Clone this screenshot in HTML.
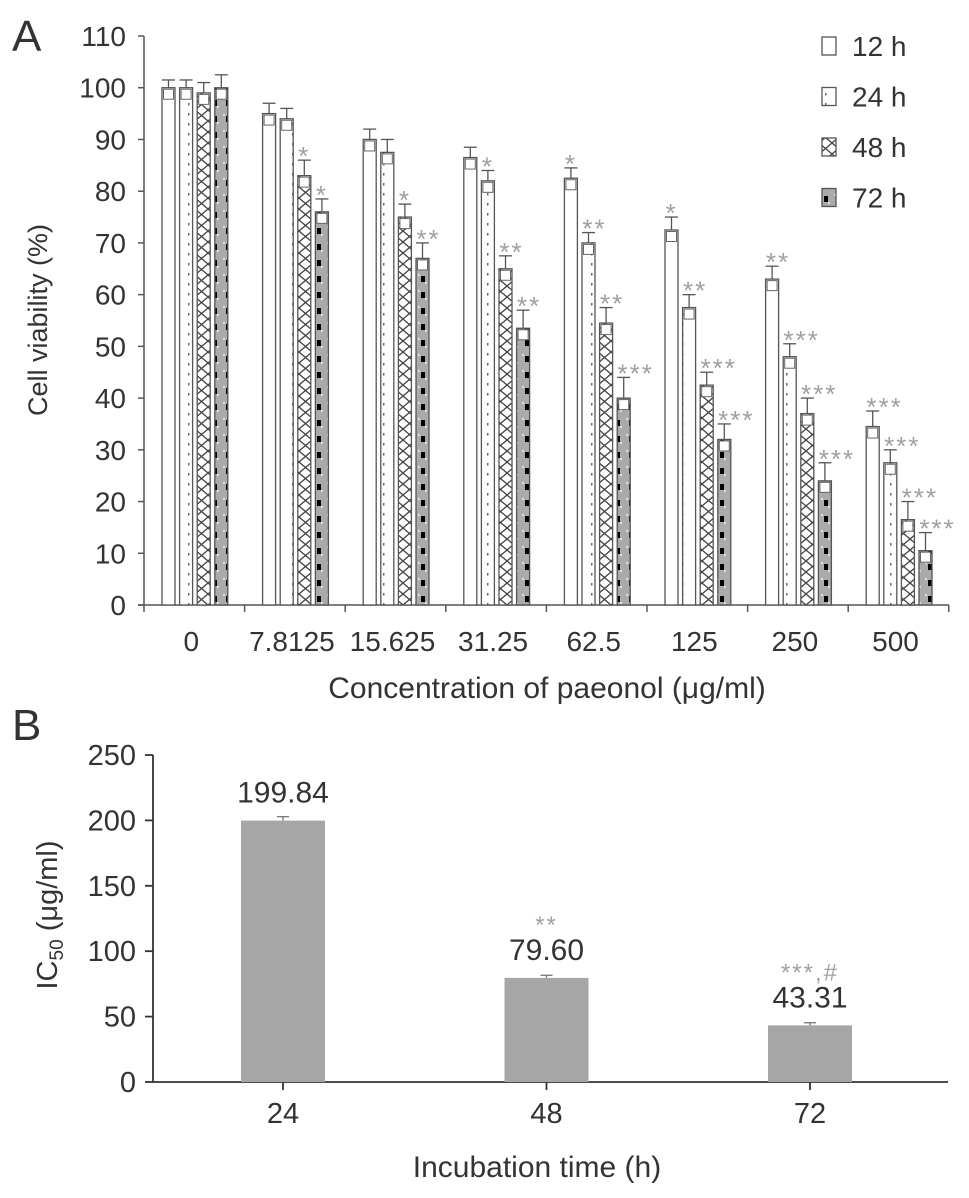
<!DOCTYPE html>
<html><head><meta charset="utf-8"><style>
html,body{margin:0;padding:0;background:#fff}
svg{display:block;font-family:"Liberation Sans",sans-serif}
</style></head><body>
<svg id="fig" width="969" height="1198" viewBox="0 0 969 1198" xmlns="http://www.w3.org/2000/svg">
<defs>
<pattern id="p24" width="13" height="10" patternUnits="userSpaceOnUse"><rect width="13" height="10" fill="#fff"/><rect x="6" y="3" width="1.5" height="2.5" fill="#666"/></pattern>
<pattern id="p48" width="13" height="22" patternUnits="userSpaceOnUse"><rect width="13" height="22" fill="#fff"/><path d="M0 0 L13 11 L0 22 M13 0 L0 11 L13 22" stroke="#444" stroke-width="1.3" fill="none"/></pattern>
<pattern id="p72" width="13" height="16" patternUnits="userSpaceOnUse"><rect width="13" height="16" fill="#aaa"/><circle cx="3" cy="3" r="1" fill="#eee"/><circle cx="10" cy="11" r="1" fill="#eee"/><rect x="5" y="4" width="4" height="6" fill="#000"/></pattern>
</defs>
<g id="A"></g>
<g id="B"></g>
</svg>
<script>
const categories=["0","7.8125","15.625","31.25","62.5","125","250","500"];
const seriesNames=["12 h","24 h","48 h","72 h"];
const v12=[100,95,90,86.5,82.5,72.5,63,34.5];
const v24=[100,94,87.5,82,70,57.5,48,27.5];
const v48=[99,83,75,65,54.5,42.5,37,16.5];
const v72=[100,76,67,53.5,40,32,24,10.5];
const e12=[1.5,2,2,2,2,2.5,2.5,3];
const e24=[1.5,2,2.5,2,2,2.5,2.5,2.5];
const e48=[2,3,2.5,2.5,3,2.5,3,3.5];
const e72=[2.5,2.5,3,3.5,4,3,3.5,3.5];
const s12=["","","","","*","*","**","***"];
const s24=["","","","*","**","**","***","***"];
const s48=["","*","*","**","**","***","***","***"];
const s72=["","*","**","**","***","***","***","***"];
const yTicksA=[0,10,20,30,40,50,60,70,80,90,100,110];
const bCats=["24","48","72"];
const bVals=[199.84,79.60,43.31];
const bErr=[3,2,2];
const bLabels=["199.84","79.60","43.31"];
const bStars=["","**","***,#"];
const yTicksB=[0,50,100,150,200,250];

const NS="http://www.w3.org/2000/svg";
function mk(p,tag,at,txt){const e=document.createElementNS(NS,tag);for(const k in at)e.setAttribute(k,at[k]);if(txt!==undefined)e.textContent=txt;p.appendChild(e);return e;}
const TXT="#333";
// Panel A
const A=document.getElementById('A');
const yA=v=>605-v*(569/110);
const x0=144,gw=100.6;
const xg=i=>x0+i*gw;
let t=mk(A,'text',{x:12,y:51,'font-size':44,fill:TXT},'A');


let ax=mk(A,'line',{x1:x0,y1:yA(110),x2:x0,y2:yA(0),stroke:'#555','stroke-width':1.5});


let axx=mk(A,'line',{x1:x0-6,y1:yA(0),x2:949,y2:yA(0),stroke:'#555','stroke-width':1.5});


yTicksA.forEach(v=>{
 mk(A,'line',{x1:x0-6,y1:yA(v),x2:x0,y2:yA(v),stroke:'#555','stroke-width':1.5});
 const l=mk(A,'text',{x:126,y:yA(v)+10,'font-size':28,'text-anchor':'end',fill:TXT},String(v));
 
 
});
for(let i=0;i<=categories.length;i++)mk(A,'line',{x1:xg(i),y1:yA(0),x2:xg(i),y2:yA(0)+7,stroke:'#555','stroke-width':1.5});
categories.forEach((c,i)=>{
 const l=mk(A,'text',{x:xg(i)+gw/2-3,y:651,'font-size':28,'text-anchor':'middle',fill:TXT},c);
 
 
});
const series=[v12,v24,v48,v72],errs=[e12,e24,e48,e72],stars=[s12,s24,s48,s72];
const fills=['#fff','url(#p24)','url(#p48)','url(#p72)'];
series.forEach((vals,s)=>{
 vals.forEach((v,i)=>{
  const bx=xg(i)+18+s*17.6,bw=13;
  const top=yA(v),et=yA(v+errs[s][i]);
  mk(A,'line',{x1:bx+bw/2,y1:et,x2:bx+bw/2,y2:top,stroke:'#555','stroke-width':1.3});
  mk(A,'line',{x1:bx,y1:et,x2:bx+bw,y2:et,stroke:'#555','stroke-width':1.3});
  const r=mk(A,'rect',{x:bx,y:top,width:bw,height:yA(0)-top,fill:fills[s],stroke:'#555','stroke-width':1.3});
  
  
  mk(A,'rect',{x:bx+1.5,y:top+1.5,width:bw-3,height:10,fill:'#fff',stroke:'#666','stroke-width':1});
  if(stars[s][i]){
   const n=stars[s][i].length;
   const st=mk(A,'text',{x:bx+bw/2+(n-1)*6,y:et+5,'font-size':26,'text-anchor':'middle',fill:'#a0a0a0','letter-spacing':2},stars[s][i]);
   
   
  }
 });
});
seriesNames.forEach((n,s)=>{
 const y=46+s*50.5;
 const g=mk(A,'g',{});
 
 
 mk(g,'rect',{x:822,y:y-9,width:14,height:18,fill:fills[s],stroke:'#555','stroke-width':1.3});
 mk(g,'text',{x:852,y:y+10,'font-size':28,fill:TXT},n);
});
t=mk(A,'text',{x:0,y:0,'font-size':27,'text-anchor':'middle',fill:TXT,transform:'translate(47,320) rotate(-90)'},'Cell viability (%)');


t=mk(A,'text',{x:547,y:698,'font-size':30,'text-anchor':'middle',fill:TXT},'Concentration of paeonol (μg/ml)');



// Panel B
const B=document.getElementById('B');
const yB=v=>1082-v*(327/250);
const bx0=153,bx1=948;
t=mk(B,'text',{x:12,y:740,'font-size':44,fill:TXT},'B');


ax=mk(B,'line',{x1:bx0,y1:yB(250),x2:bx0,y2:yB(0),stroke:'#333','stroke-width':1.8});


axx=mk(B,'line',{x1:bx0,y1:yB(0),x2:bx1,y2:yB(0),stroke:'#333','stroke-width':1.8});


yTicksB.forEach(v=>{
 mk(B,'line',{x1:bx0-8,y1:yB(v),x2:bx0,y2:yB(v),stroke:'#333','stroke-width':1.8});
 const l=mk(B,'text',{x:136,y:yB(v)+10,'font-size':29,'text-anchor':'end',fill:TXT},String(v));
 
 
});
bCats.forEach((c,i)=>{
 const cx=283+i*263.5;
 mk(B,'line',{x1:cx,y1:yB(0),x2:cx,y2:yB(0)+8,stroke:'#333','stroke-width':1.8});
 const et=yB(bVals[i]+bErr[i]);
 mk(B,'line',{x1:cx-6,y1:et,x2:cx+6,y2:et,stroke:'#777','stroke-width':1.3});
 mk(B,'line',{x1:cx,y1:et,x2:cx,y2:yB(bVals[i]),stroke:'#777','stroke-width':1.3});
 const r=mk(B,'rect',{x:cx-42,y:yB(bVals[i]),width:84,height:yB(0)-yB(bVals[i]),fill:'#a6a6a6'});
 
 
 const l=mk(B,'text',{x:cx,y:yB(bVals[i])-18,'font-size':30,'text-anchor':'middle',fill:TXT},bLabels[i]);
 
 
 if(bStars[i]){
  const s=mk(B,'text',{x:cx,y:yB(bVals[i])-45,'font-size':24,'text-anchor':'middle',fill:'#a0a0a0','letter-spacing':2},bStars[i]);
  
  
 }
 const xl=mk(B,'text',{x:cx,y:1123,'font-size':29,'text-anchor':'middle',fill:TXT},c);
 
 
});
t=mk(B,'text',{x:0,y:0,'font-size':29,'text-anchor':'middle',fill:TXT,transform:'translate(57,915) rotate(-90)'});
mk(t,'tspan',{},'IC');
mk(t,'tspan',{'font-size':19,dy:6},'50');
mk(t,'tspan',{dy:-6},' (μg/ml)');


t=mk(B,'text',{x:537,y:1177,'font-size':30,'text-anchor':'middle',fill:TXT},'Incubation time (h)');


</script>
</body></html>
